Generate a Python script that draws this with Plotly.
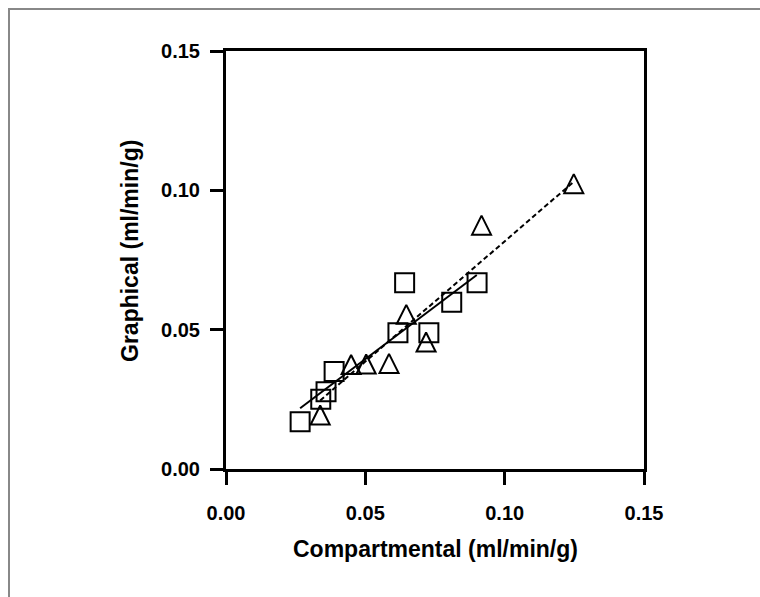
import plotly.graph_objects as go

# Data
sq_x = [0.0266, 0.0340, 0.0359, 0.0388, 0.0617, 0.0641, 0.0728, 0.0810, 0.0901]
sq_y = [0.0170, 0.0250, 0.0277, 0.0350, 0.0489, 0.0668, 0.0489, 0.0598, 0.0668]

tri_x = [0.0338, 0.0449, 0.0503, 0.0585, 0.0647, 0.0718, 0.0917, 0.1248]
tri_y = [0.0194, 0.0375, 0.0377, 0.0379, 0.0555, 0.0456, 0.0875, 0.1024]

# Regression line end points
fit_sq_x = [0.0266, 0.0900]
fit_sq_y = [0.0218, 0.0696]
fit_tri_x = [0.0338, 0.1248]
fit_tri_y = [0.0246, 0.1031]

tick_vals = [0.0, 0.05, 0.10, 0.15]
tick_text = ["0.00", "0.05", "0.10", "0.15"]

x_title = "Compartmental (ml/min/g)"
y_title = "Graphical (ml/min/g)"

FONT = "Liberation Sans"

fig = go.Figure()
fig.add_trace(go.Scatter(x=fit_sq_x, y=fit_sq_y, mode="lines",
                         line=dict(color="black", width=2), showlegend=False))
fig.add_trace(go.Scatter(x=fit_tri_x, y=fit_tri_y, mode="lines",
                         line=dict(color="black", width=2, dash="5px,3px"), showlegend=False))
fig.add_trace(go.Scatter(x=sq_x, y=sq_y, mode="markers",
                         marker=dict(symbol="square-open", size=19, color="black",
                                     line=dict(color="black", width=2)),
                         showlegend=False))
fig.add_trace(go.Scatter(x=tri_x, y=tri_y, mode="markers",
                         marker=dict(symbol="arrow-down-open", size=19, angle=180, standoff=9.5,
                                     color="black", line=dict(color="black", width=2)),
                         showlegend=False))

L, R, T, B = 226, 116, 51, 128
W, H = 760, 597
pw, ph = W - L - R, H - T - B

def px_to_paper_x(px):
    return (px - L) / pw

def px_to_paper_y(py):
    return (H - B - py) / ph

axis_common = dict(
    range=[0, 0.15], tickvals=tick_vals, ticktext=tick_text,
    showgrid=False, zeroline=False, showline=True, linecolor="black", linewidth=3,
    mirror=True, ticks="outside", ticklen=13, tickwidth=3, tickcolor="black",
    tickfont=dict(family=FONT, size=20, color="black", weight="bold"),
)

fig.update_layout(
    width=W, height=H,
    margin=dict(l=L, r=R, t=T, b=B, pad=0),
    paper_bgcolor="white", plot_bgcolor="white",
    xaxis=dict(axis_common, ticklabelstandoff=11),
    yaxis=dict(axis_common, ticklabelstandoff=6),
    annotations=[
        dict(text=x_title, xref="paper", yref="paper",
             x=px_to_paper_x(435.5), y=px_to_paper_y(549),
             xanchor="center", yanchor="middle", showarrow=False,
             font=dict(family=FONT, size=23, color="black", weight="bold")),
        dict(text=y_title, xref="paper", yref="paper",
             x=px_to_paper_x(130), y=px_to_paper_y(251), textangle=-90,
             xanchor="center", yanchor="middle", showarrow=False,
             font=dict(family=FONT, size=23, color="black", weight="bold")),
    ],
    shapes=[
        dict(type="rect", xref="paper", yref="paper",
             x0=px_to_paper_x(9), x1=px_to_paper_x(800),
             y0=px_to_paper_y(640), y1=px_to_paper_y(9),
             line=dict(color="#888888", width=2), fillcolor="rgba(0,0,0,0)", layer="below"),
    ],
)

fig.write_html("out.html", config={"displayModeBar": False},
               post_script="document.body.style.margin='0';document.body.style.padding='0';")
